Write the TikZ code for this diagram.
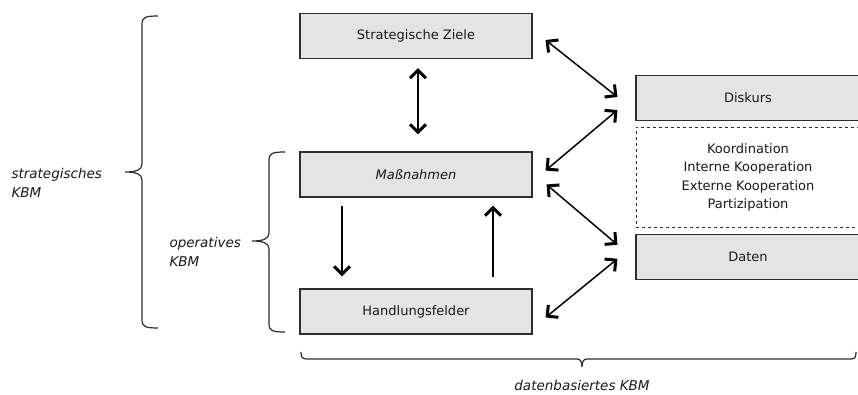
\documentclass[tikz,border=0pt]{standalone}
\usepackage{fontspec}
\setmainfont{DejaVu Sans}
\usepackage{tikz}
\usetikzlibrary{positioning, calc, arrows.meta}
\definecolor{boxgray}{RGB}{228,228,228}
\definecolor{linegray}{RGB}{45,45,45}
\newcommand{\vklammer}[4]{%
  \draw[klammer] (#1,#2) .. controls (#1-12,#2) and (#1-16,#2+1) .. (#1-16,#2+8)
    -- (#1-16,#3-8) .. controls (#1-16,#3-2) and (#1-22,#3) .. (#1-33,#3)
    .. controls (#1-22,#3) and (#1-16,#3+2) .. (#1-16,#3+8)
    -- (#1-16,#4-8) .. controls (#1-16,#4-1) and (#1-12,#4) .. (#1,#4);}

\begin{document}
\begin{tikzpicture}[x=1pt, y=-1pt,
    >={Straight Barb[length=8pt, width=16pt, line width=3pt]},
    every node/.style={font=\fontsize{13}{18.5}\selectfont, text=black!90},
    kbmbox/.style={draw=linegray, line width=1.1pt, fill=boxgray, minimum width=232pt, minimum height=45pt, inner sep=0pt},
    sidebox/.style={kbmbox, minimum width=224pt},
    klammer/.style={draw=linegray, line width=1.2pt},
    pfeil/.style={line width=1.5pt, ->},
    dpfeil/.style={line width=1.5pt, <->},
    label/.style={font=\fontsize{13.5}{19}\selectfont\itshape, align=left}]
  \useasboundingbox (0,0) rectangle (858,395);

  \node[kbmbox] (ziele) at (416,36) {Strategische Ziele};
  \node[kbmbox] (massn) at (416,174.5) {\itshape Maßnahmen};
  \node[kbmbox] (handl) at (416,311.5) {Handlungsfelder};

  \node[sidebox] (diskurs) at (748,98) {Diskurs};
  \node[draw=linegray, dashed, line width=0.7pt, minimum width=224pt, minimum height=100pt, align=center, below=6pt of diskurs] (mitte)
    {Koordination\\Interne Kooperation\\Externe Kooperation\\Partizipation};
  \node[sidebox, below=6pt of mitte] (daten) {Daten};

  \draw[dpfeil] ($(ziele.south)+(2,9)$) -- ($(massn.north)+(2,-17)$);
  \draw[pfeil] ($(massn.south)+(-74,8)$) -- ($(handl.north)+(-74,-12)$);
  \draw[pfeil] ($(handl.north)+(77,-11)$) -- ($(massn.south)+(77,8)$);

  \draw[dpfeil] ($(ziele.east)+(13,4)$) -- ($(diskurs.west)+(-18,-1)$);
  \draw[dpfeil] ($(massn.east)+(13,-4)$) -- ($(diskurs.west)+(-18,12)$);
  \draw[dpfeil] ($(massn.east)+(14,10)$) -- ($(daten.west)+(-18,-12)$);
  \draw[dpfeil] ($(handl.east)+(13,6)$) -- ($(daten.west)+(-18,2)$);

  \vklammer{158}{16}{172}{328}
  \vklammer{285}{152}{241}{332}
  \draw[klammer] (301,352) .. controls (301,357) and (302,359) .. (307,359)
    -- (577,359) .. controls (580,359) and (582,361) .. (582,367)
    .. controls (582,361) and (584,359) .. (587,359)
    -- (851,359) .. controls (855,359) and (856,357) .. (856,352);

  \node[label, anchor=west] (strat) at (8,183) {strategisches\\KBM};
  \node[label, anchor=west] (oper) at (166,252) {operatives\\KBM};
  \node[label] (daba) at (582,385) {datenbasiertes KBM};
\end{tikzpicture}
\end{document}
